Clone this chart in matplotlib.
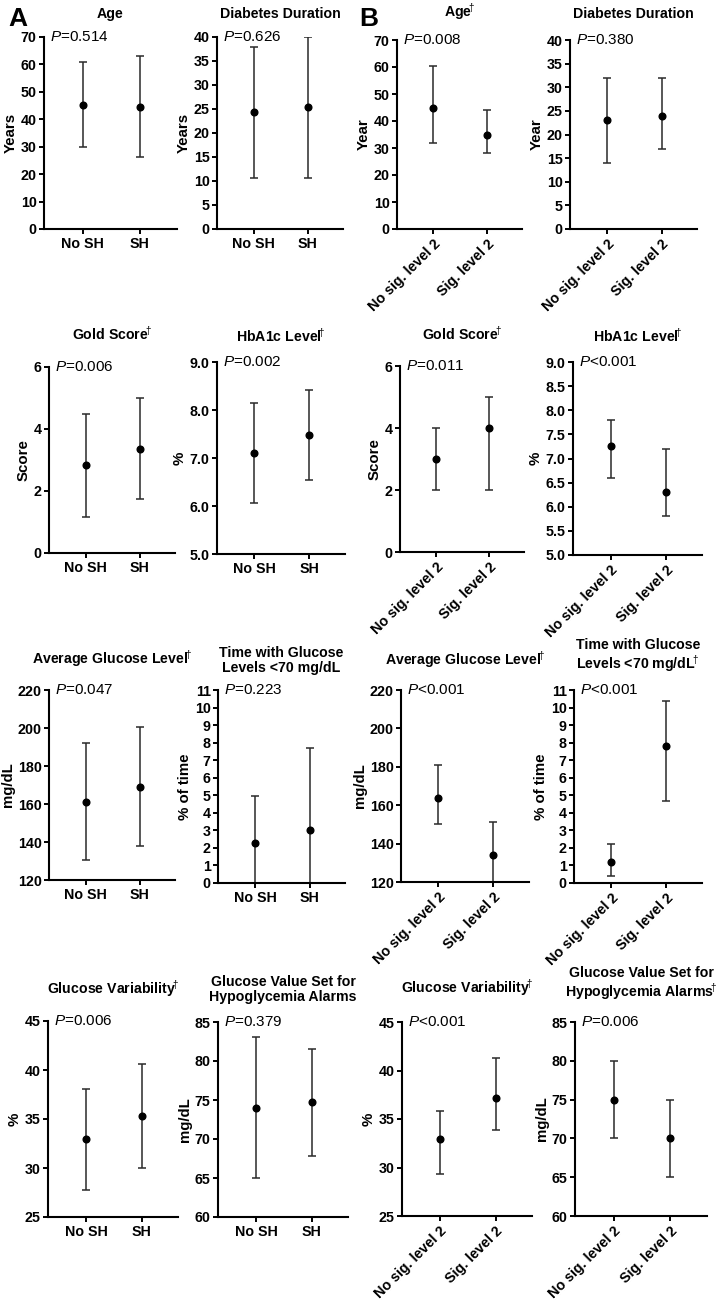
import matplotlib
matplotlib.use("Agg")
import matplotlib.pyplot as plt
import numpy as np

plt.rcParams['font.family'] = ['Liberation Sans', 'DejaVu Sans']
plt.rcParams['mathtext.fontset'] = 'custom'
plt.rcParams['mathtext.rm'] = 'Liberation Sans'
plt.rcParams['mathtext.it'] = 'Liberation Sans:italic'
plt.rcParams['mathtext.bf'] = 'Liberation Sans:bold'

D = "$\\!^{\\dagger}$"

# panels in reading order: row by row, A (cols 1-2) then B (cols 3-4)
titles = [
    "Age", "Diabetes Duration", "Age" + D, "Diabetes Duration",
    "Gold Score" + D, "HbA1c Level" + D, "Gold Score" + D, "HbA1c Level" + D,
    "Average Glucose Level" + D, "Time with Glucose\nLevels <70 mg/dL",
    "Average Glucose Level" + D, "Time with Glucose\nLevels <70 mg/dL" + D,
    "Glucose Variability" + D, "Glucose Value Set for\nHypoglycemia Alarms",
    "Glucose Variability" + D, "Glucose Value Set for\nHypoglycemia Alarms" + D,
]
ylabels = ["Years", "Years", "Year", "Year",
           "Score", "%", "Score", "%",
           "mg/dL", "% of time", "mg/dL", "% of time",
           "%", "mg/dL", "%", "mg/dL"]
pvals = ["$P$=0.514", "$P$=0.626", "$P$=0.008", "$P$=0.380",
         "$P$=0.006", "$P$=0.002", "$P$=0.011", "$P$<0.001",
         "$P$=0.047", "$P$=0.223", "$P$<0.001", "$P$<0.001",
         "$P$=0.006", "$P$=0.379", "$P$<0.001", "$P$=0.006"]

groups_a = ["No SH", "SH"]
groups_b = ["No sig. level 2", "Sig. level 2"]

means = [[45.3, 44.4], [24.3, 25.4], [45.0, 35.0], [23.0, 24.0],
         [2.84, 3.37], [7.10, 7.48], [3.0, 4.0], [7.25, 6.30],
         [161.2, 168.8], [2.28, 3.0], [163.5, 134.0], [1.22, 7.8],
         [33.0, 35.3], [74.0, 74.7], [32.9, 37.2], [75.0, 70.0]]
lower = [[29.8, 26.1], [10.7, 10.7], [32.0, 28.0], [14.0, 17.0],
         [1.17, 1.75], [6.06, 6.54], [2.0, 2.0], [6.6, 5.8],
         [130.5, 137.8], [0.0, 0.0], [150.0, 117.0], [0.42, 4.7],
         [27.8, 30.0], [65.0, 67.8], [29.3, 33.9], [70.0, 65.0]]
upper = [[61.0, 63.0], [37.9, 40.0], [60.5, 44.0], [32.0, 32.0],
         [4.48, 5.0], [8.14, 8.42], [4.0, 5.0], [7.8, 7.2],
         [192.3, 200.3], [4.97, 7.72], [181.0, 151.0], [2.2, 10.4],
         [38.1, 40.6], [83.1, 81.5], [35.8, 41.3], [80.0, 75.0]]

yticks = [np.arange(0, 71, 10), np.arange(0, 41, 5), np.arange(0, 71, 10), np.arange(0, 41, 5),
          np.arange(0, 7, 2), np.arange(5, 9.1, 1.0), np.arange(0, 7, 2), np.arange(5, 9.1, 0.5),
          np.arange(120, 221, 20), np.arange(0, 12, 1), np.arange(120, 221, 20), np.arange(0, 12, 1),
          np.arange(25, 46, 5), np.arange(60, 86, 5), np.arange(25, 46, 5), np.arange(60, 86, 5)]
decimal_ticks = [5, 7]

# axes boxes in pixels: left, top, right, bottom
boxes = [(44, 37, 177, 229), (217, 37, 343, 229), (397, 40, 522, 229), (570, 40, 697, 229),
         (49, 367, 175, 553), (217, 362, 345, 554), (400, 366, 524, 552), (573, 362, 702, 555),
         (49, 690, 175, 880), (218, 690, 345, 883), (401, 690, 529, 882), (574, 690, 702, 883),
         (48, 1021, 178, 1217), (218, 1022, 348, 1217), (402, 1022, 532, 1216), (575, 1022, 707, 1216)]
title_pads = [16, 16, 18, 19, 24, 17, 23, 17, 21, 15, 20, 16, 22, 18, 24, 20]

W, H = 717, 1305
fig = plt.figure(figsize=(W / 100, H / 100), dpi=100)

for i in range(16):
    l, t, r, b = boxes[i]
    ax = fig.add_axes([l / W, 1 - b / H, (r - l) / W, (b - t) / H])
    col = i % 4
    x = np.arange(2)
    m = np.array(means[i])
    lo = np.array(lower[i])
    hi = np.array(upper[i])
    ax.errorbar(x, m, yerr=[m - lo, hi - m], fmt='o', color='black', ecolor='#2a2a2a',
                elinewidth=1.1, capsize=3.2, capthick=1.1, markersize=4.8)
    ax.set_xlim(-0.68, 1.65)
    ax.set_ylim(yticks[i][0], yticks[i][-1])
    ax.set_yticks(yticks[i])
    if i in decimal_ticks:
        ax.set_yticklabels([f"{v:.1f}" for v in yticks[i]])
    else:
        ax.set_yticklabels([f"{v:g}" for v in yticks[i]])
    ax.set_xticks(x)
    if col < 2:
        ax.set_xticklabels(groups_a)
        ax.tick_params(axis='x', pad=2)
    else:
        ax.set_xticklabels(groups_b, rotation=45, ha='right', va='top',
                           rotation_mode='anchor')
        ax.tick_params(axis='x', pad=2)
    for s in ['top', 'right']:
        ax.spines[s].set_visible(False)
    for s in ['left', 'bottom']:
        ax.spines[s].set_linewidth(1.5)
    ax.tick_params(axis='both', direction='out', length=3.8, width=1.4, labelsize=10.3)
    ax.tick_params(axis='y', pad=1.5)
    for lab in ax.get_xticklabels() + ax.get_yticklabels():
        lab.set_fontweight('bold')
    ax.set_ylabel(ylabels[i], fontsize=10.8, fontweight='bold', labelpad=2)
    ax.set_title(titles[i], fontsize=10.2, fontweight='bold', va='bottom',
                 pad=title_pads[i] * 0.72, linespacing=1.1)
    ax.annotate(pvals[i], xy=(0, yticks[i][-1]), xycoords=('axes fraction', 'data'),
                xytext=(4, 0), textcoords='offset points', ha='left', va='center',
                fontsize=11)

fig.text(8 / W, 1 - 26 / H, "A", fontsize=19, fontweight='bold', va='baseline')
fig.text(359 / W, 1 - 26 / H, "B", fontsize=19, fontweight='bold', va='baseline')

fig.savefig("out.png", dpi=100)
